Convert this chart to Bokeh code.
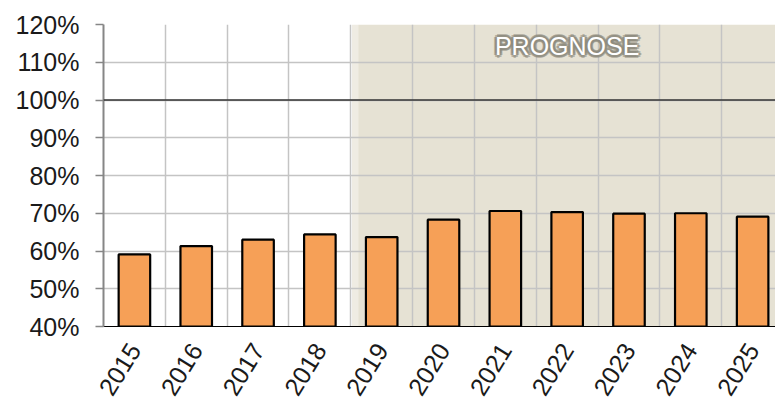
from bokeh.plotting import figure
from bokeh.models import Range1d, FixedTicker, Span
from bokeh.core.properties import value
from bokeh.embed import file_html
from bokeh.resources import INLINE
import math

years = ["2015", "2016", "2017", "2018", "2019", "2020", "2021", "2022", "2023", "2024", "2025"]
quote = [59.1, 61.3, 63.0, 64.4, 63.7, 68.3, 70.6, 70.3, 69.9, 70.0, 69.1]
y_ticks = [40, 50, 60, 70, 80, 90, 100, 110, 120]
forecast_label = "PROGNOSE"
forecast_start = 3.5

xs = list(range(len(years)))
FONT = "Liberation Sans"

p = figure(width=775, height=405, output_backend="svg", toolbar_location=None,
           x_range=Range1d(-0.5, 10.37), y_range=Range1d(40, 120),
           min_border_left=103, min_border_right=0, min_border_top=24, min_border_bottom=79)
p.outline_line_color = None
p.background_fill_color = "white"

# forecast shading
p.quad(left=[forecast_start + 0.02], right=[forecast_start + 0.12], bottom=[40], top=[120],
       fill_color="#EFECE3", line_color=None, level="image")
p.quad(left=[forecast_start + 0.12], right=[11], bottom=[40], top=[120],
       fill_color="#E6E2D4", line_color=None, level="image")

p.vbar(x=xs, top=quote, bottom=40, width=0.51, fill_color="#F6A057",
       line_color="black", line_width=2.2)

p.add_layout(Span(location=100, dimension="width", line_color="#333333", line_width=1.5))

# glow behind the label
offs = [(-2, 0), (2, 0), (0, -2), (0, 2), (-2, -2), (2, 2), (-2, 2), (2, -2),
        (-3, 0), (3, 0), (0, -3), (0, 3)]
p.text(x=[7] * len(offs), y=[114.4] * len(offs), text=[forecast_label] * len(offs),
       x_offset=[o[0] for o in offs], y_offset=[o[1] for o in offs],
       text_color="#8E8B7E", text_alpha=0.55,
       text_font=value(FONT), text_font_size="25px", text_align="center",
       text_baseline="middle")
p.text(x=[7], y=[114.4], text=[forecast_label], text_color="white",
       text_font=value(FONT), text_font_size="25px", text_align="center",
       text_baseline="middle")

# axes
p.yaxis.ticker = FixedTicker(ticks=y_ticks)
p.yaxis.major_label_overrides = {t: f"{t}%" for t in y_ticks}
p.yaxis.major_label_text_font = FONT
p.yaxis.major_label_text_font_size = "25px"
p.yaxis.major_label_text_color = "#1a1a1a"
p.yaxis.axis_line_color = "#868686"
p.yaxis.axis_line_width = 2
p.yaxis.major_tick_line_color = "#868686"
p.yaxis.major_tick_line_width = 1.5
p.yaxis.major_tick_out = 8
p.yaxis.major_tick_in = 0
p.yaxis.minor_tick_line_color = None
p.yaxis.major_label_standoff = 16

p.xaxis.ticker = FixedTicker(ticks=xs)
p.xaxis.major_label_overrides = {i: y for i, y in zip(xs, years)}
p.xaxis.major_label_text_font = FONT
p.xaxis.major_label_text_font_size = "25px"
p.xaxis.major_label_text_color = "#1a1a1a"
p.xaxis.major_label_orientation = math.radians(58)
p.xaxis.axis_line_color = "black"
p.xaxis.axis_line_width = 1
p.xaxis.major_tick_line_color = None
p.xaxis.minor_tick_line_color = None
p.xaxis.major_label_standoff = 13

# grids
p.xgrid.ticker = FixedTicker(ticks=[i + 0.5 for i in range(len(years))])
p.xgrid.grid_line_color = "#C4C4C4"
p.xgrid.grid_line_width = 1.5
p.ygrid.ticker = FixedTicker(ticks=y_ticks)
p.ygrid.grid_line_color = "#C4C4C4"
p.ygrid.grid_line_width = 1.5

open("out.html", "w").write(file_html(p, INLINE))
